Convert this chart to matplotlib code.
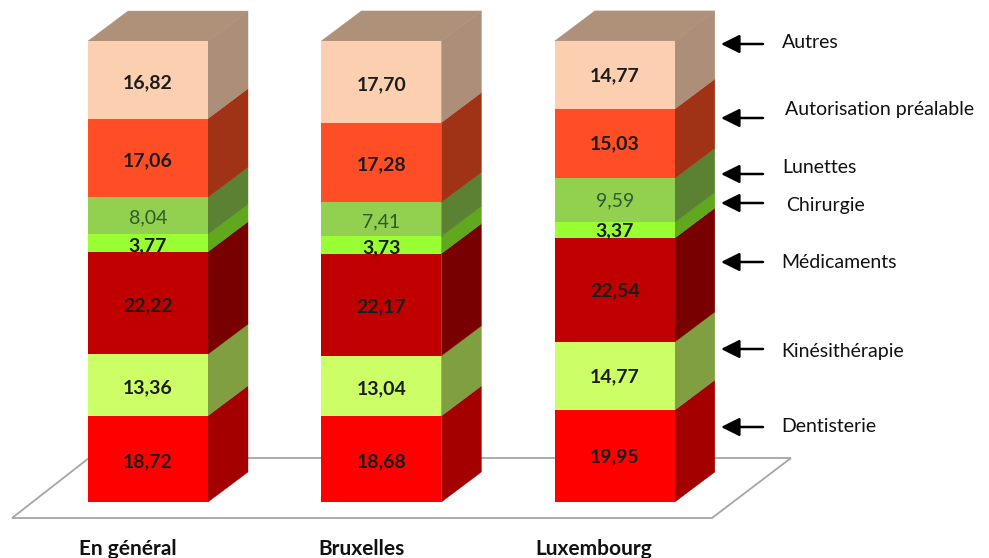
import matplotlib
matplotlib.use("Agg")
import matplotlib.pyplot as plt
import matplotlib.patches as patches

plt.rcParams['font.family'] = ['Lato', 'DejaVu Sans']

# values from bottom to top of each stack
categories = ["En général", "Bruxelles", "Luxembourg"]
series = ["Dentisterie", "Kinésithérapie", "Médicaments", "Chirurgie",
          "Lunettes", "Autorisation préalable", "Autres"]
general = [18.72, 13.36, 22.22, 3.77, 8.04, 17.06, 16.82]
bruxelles = [18.68, 13.04, 22.17, 3.73, 7.41, 17.28, 17.70]
luxembourg = [19.95, 14.77, 22.54, 3.37, 9.59, 15.03, 14.77]
stacks = [general, bruxelles, luxembourg]

front = ["#FF0000", "#CCFF66", "#C00000", "#99FF33", "#92D050", "#FF4D25", "#FBCFB0"]
side = ["#A50000", "#7F9F40", "#780000", "#60A81E", "#5B8232", "#A03216", "#AD8F79"]
top_color = "#AF9079"
bold = [True, True, True, True, False, True, True]

W, H = 989, 558
PX_X = 233.4   # pixels per category
PX_Y = 4.61    # pixels per unit
X0 = 148       # pixel centre of the first bar
Y0 = 502       # pixel row of value 0


def to_x(px):
    return (px - X0) / PX_X


def to_y(py):
    return (Y0 - py) / PX_Y


fig = plt.figure(figsize=(W / 100, H / 100), dpi=100)
ax = fig.add_axes([0, 0, 1, 1])
ax.set_xlim(to_x(0), to_x(W))
ax.set_ylim(to_y(H), to_y(0))
ax.axis("off")

bar_w = 120 / PX_X
dx = 40 / PX_X
dy = 30 / PX_Y
label_shift = [2.5 / PX_Y, 2.5 / PX_Y, 0.5 / PX_Y]

# floor
floor = [(12, 518), (89, 458), (791, 458), (712, 518)]
ax.add_patch(patches.Polygon([(to_x(a), to_y(b)) for a, b in floor], closed=True,
                             facecolor="white", edgecolor="#A6A6A6", linewidth=1.3, zorder=1))

for i, values in enumerate(stacks):
    bottom = 0
    left = i - bar_w / 2
    right = i + bar_w / 2
    for j, v in enumerate(values):
        ax.bar(i, v, width=bar_w, bottom=bottom, color=front[j], linewidth=0, zorder=3)
        ax.add_patch(patches.Polygon(
            [(right, bottom), (right + dx, bottom + dy),
             (right + dx, bottom + v + dy), (right, bottom + v)],
            closed=True, facecolor=side[j], edgecolor=side[j], linewidth=0.3, zorder=2))
        ax.text(i, bottom + v / 2 - label_shift[i], f"{v:.2f}".replace(".", ","),
                ha="center", va="center", fontsize=14,
                fontweight="bold" if bold[j] else "normal",
                color="#1c1c1c" if bold[j] else "#2E5A2E", zorder=5)
        bottom += v
    ax.add_patch(patches.Polygon(
        [(left, bottom), (right, bottom), (right + dx, bottom + dy), (left + dx, bottom + dy)],
        closed=True, facecolor=top_color, edgecolor=top_color, linewidth=0.3, zorder=2))

# category names
cat_px = [128, 361, 594]
for name, px in zip(categories, cat_px):
    ax.text(to_x(px), to_y(549), name, ha="center", va="center",
            fontsize=15, fontweight="bold", color="#111111")

# arrows and series names, top to bottom
arrow_py = [44, 118, 174, 203, 262, 349, 427]
label_px = [782, 785, 782, 786, 781, 781, 781]
label_py = [43, 110, 167, 206, 262, 352, 426]
for name, ay, lx, ly in zip(series[::-1], arrow_py, label_px, label_py):
    ax.annotate("", xy=(to_x(721), to_y(ay)), xytext=(to_x(763), to_y(ay)),
                arrowprops=dict(arrowstyle="-|>,head_length=0.8,head_width=0.4", mutation_scale=14,
                                color="black", linewidth=1.8, shrinkA=0, shrinkB=0))
    ax.text(to_x(lx), to_y(ly), name, ha="left", va="center", fontsize=14, color="#111111")

fig.savefig("out.png", dpi=100)
